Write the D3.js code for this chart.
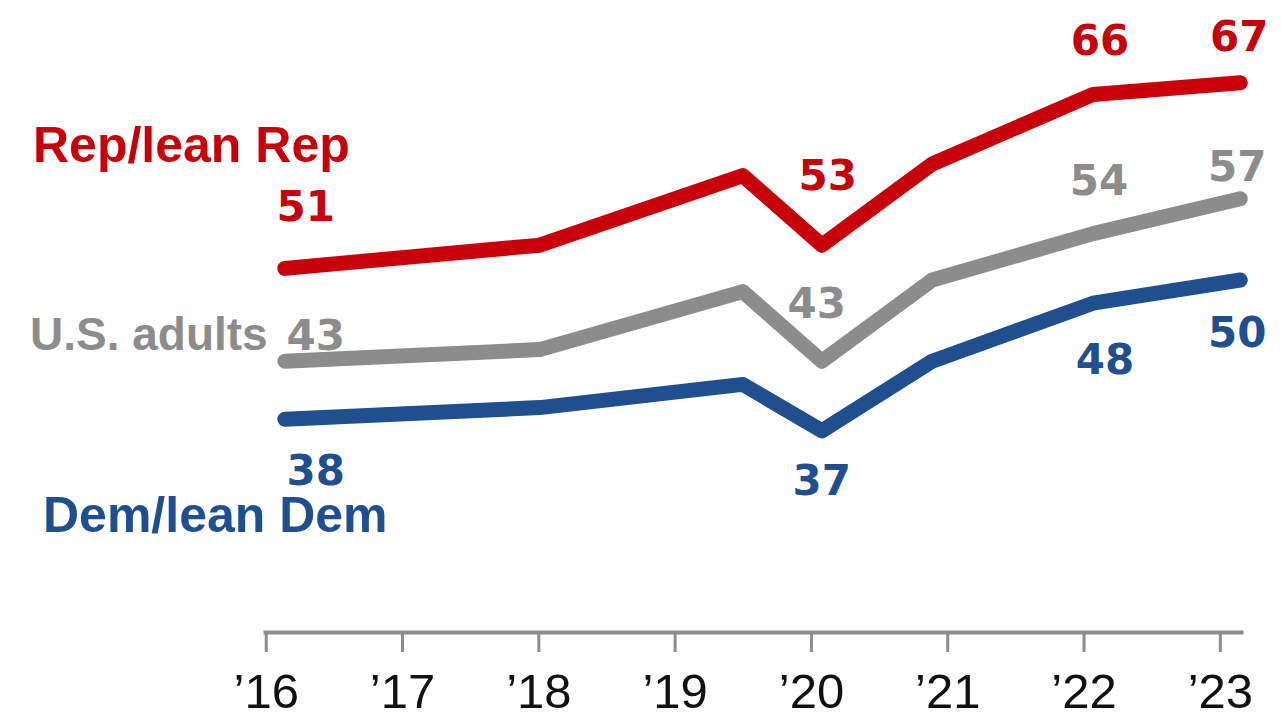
<!DOCTYPE html>
<html>
<head>
<meta charset="utf-8">
<script src="https://cdn.jsdelivr.net/npm/d3@7"></script>
<style>
  body { margin: 0; background: #fff; }
</style>
</head>
<body>
<script>
// survey dates as decimal years
var dates = [2016.14, 2018.01, 2019.5, 2020.08, 2020.89, 2022.07, 2023.15];
var repValues = [51, 53, 59, 53, 60, 66, 67];
var allValues = [43, 44, 49, 43, 50, 54, 57];
var demValues = [38, 39, 41, 37, 43, 48, 50];
var tickYears = [2016, 2017, 2018, 2019, 2020, 2021, 2022, 2023];
var tickLabels = ["\u201916", "\u201917", "\u201918", "\u201919", "\u201920", "\u201921", "\u201922", "\u201923"];

var w = 1281, h = 718;

var svg = d3.select("body").append("svg")
    .attr("width", w)
    .attr("height", h);

var x = d3.scaleLinear().domain([2015.98, 2023.17]).range([263, 1243]);
var y = d3.scaleLinear().domain([30, 70]).range([512, 48]);

// axis
var axis = d3.axisBottom(x)
    .tickValues(tickYears)
    .tickSize(20)
    .tickSizeOuter(0)
    .tickFormat(function(d, i) { return tickLabels[i]; });

var gx = svg.append("g")
    .attr("transform", "translate(0,632)")
    .call(axis);
gx.select(".domain").attr("stroke", "#8c8c8c").attr("stroke-width", 4);
gx.selectAll(".tick line").attr("stroke", "#8c8c8c").attr("stroke-width", 3);
gx.selectAll(".tick text")
    .attr("y", 76)
    .attr("dy", 0)
    .attr("fill", "#111")
    .attr("font-family", "'Liberation Sans', Arial, sans-serif")
    .attr("font-size", "49px");

var series = [
  { name: "Rep/lean Rep", values: repValues, color: "#c8000a",
    nameX: 33, nameY: 162, nameSize: 50,
    labels: [[0, 21, -47], [3, 6, -55], [5, 7, -39], [6, -1, -32]] },
  { name: "U.S. adults", values: allValues, color: "#8c8c8c",
    nameX: 30, nameY: 350, nameSize: 46,
    labels: [[0, 31, -11], [3, -5, -43], [5, 6, -39], [6, -3, -18]] },
  { name: "Dem/lean Dem", values: demValues, color: "#1f4f8f",
    nameX: 43, nameY: 532, nameSize: 50,
    labels: [[0, 31, 66], [3, 0, 64], [5, 12, 71], [6, -3, 67]] }
];

var line = d3.line()
    .x(function(d, i) { return x(dates[i]); })
    .y(function(d) { return y(d); });

series.forEach(function(s) {
    svg.append("path")
        .datum(s.values)
        .attr("d", line)
        .attr("fill", "none")
        .attr("stroke", s.color)
        .attr("stroke-width", 15)
        .attr("stroke-linejoin", "round")
        .attr("stroke-linecap", "round");

    svg.append("text")
        .attr("x", s.nameX)
        .attr("y", s.nameY)
        .attr("fill", s.color)
        .attr("font-family", "'Liberation Sans', Arial, sans-serif")
        .attr("font-weight", "bold")
        .attr("font-size", s.nameSize + "px")
        .text(s.name);

    svg.selectAll(null)
        .data(s.labels)
        .enter()
        .append("text")
        .attr("x", function(d) { return x(dates[d[0]]) + d[1]; })
        .attr("y", function(d) { return y(s.values[d[0]]) + d[2]; })
        .attr("text-anchor", "middle")
        .attr("fill", s.color)
        .attr("font-family", "'DejaVu Sans', sans-serif")
        .attr("font-weight", "bold")
        .attr("font-size", "42px")
        .text(function(d) { return s.values[d[0]]; });
});
</script>
</body>
</html>
